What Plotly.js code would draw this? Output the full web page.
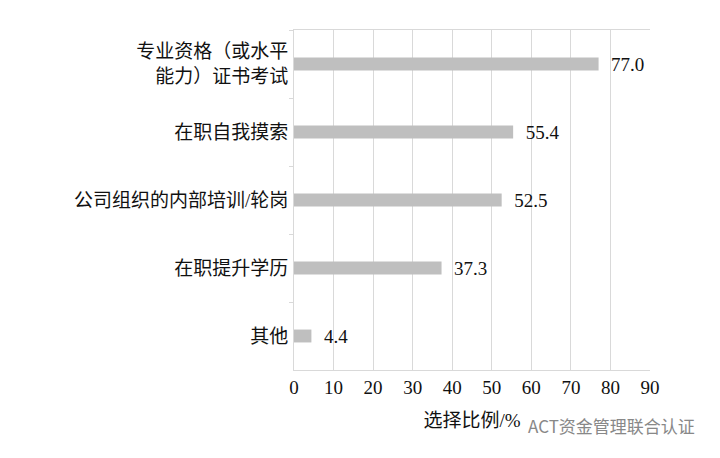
<!DOCTYPE html>
<html>
<head>
<meta charset="utf-8">
<script src="https://cdn.plot.ly/plotly-3.0.1.min.js"></script>
<style>
  html, body { margin: 0; padding: 0; background: #fff; }
  #graph { width: 720px; height: 458px; }
</style>
</head>
<body>
<div id="graph"></div>
<script>
// DATA
var categories = ['专业资格（或水平<br>能力）证书考试', '在职自我摸索', '公司组织的内部培训/轮岗', '在职提升学历', '其他'];
var values = [77.0, 55.4, 52.5, 37.3, 4.4];
var xTicks = [0, 10, 20, 30, 40, 50, 60, 70, 80, 90];

var FONT = '"Liberation Serif", "Noto Sans CJK SC", serif';

var trace = {
	type: 'bar',
	orientation: 'h',
	y: categories,
	x: values,
	width: 0.19,
	marker: { color: '#bfbfbf' },
	// leading en space gives the gap between bar end and label
	text: values.map(function(v){ return '\u2002' + v.toFixed(1); }),
	textposition: 'outside',
	constraintext: 'none',
	cliponaxis: false,
	textfont: { family: FONT, size: 19, color: '#111' },
	hoverinfo: 'none'
};

var layout = {
	width: 720, height: 458,
	margin: { l: 294, r: 70, t: 30, b: 88 },
	paper_bgcolor: '#fff',
	plot_bgcolor: '#fff',
	showlegend: false,
	font: { family: FONT, size: 19, color: '#111' },
	xaxis: {
		range: [0, 90],
		tickvals: xTicks,
		ticktext: xTicks.map(String),
		showgrid: true,
		gridcolor: '#d9d9d9',
		gridwidth: 1,
		zeroline: false,
		showline: true,
		linecolor: '#d9d9d9',
		mirror: true,
		ticks: '',
		tickfont: { family: FONT, size: 19, color: '#111' },
		title: { text: '选择比例/%', font: { family: FONT, size: 19, color: '#111' }, standoff: 16 }
	},
	yaxis: {
		autorange: 'reversed',
		showgrid: false,
		zeroline: false,
		showline: true,
		linecolor: '#d9d9d9',
		ticks: 'outside',
		tickson: 'boundaries',
		ticklen: 4,
		tickcolor: '#d9d9d9',
		ticklabelstandoff: 1,
		tickfont: { family: FONT, size: 19, color: '#111' }
	},
	annotations: [{
		text: 'ACT资金管理联合认证',
		xref: 'paper', yref: 'paper',
		x: 1.132, y: -0.162,
		xanchor: 'right', yanchor: 'middle',
		showarrow: false,
		font: { family: '"Noto Sans CJK SC", sans-serif', size: 17, color: '#888' }
	}]
};

Plotly.newPlot('graph', [trace], layout, { displayModeBar: false, staticPlot: true });
</script>
</body>
</html>
